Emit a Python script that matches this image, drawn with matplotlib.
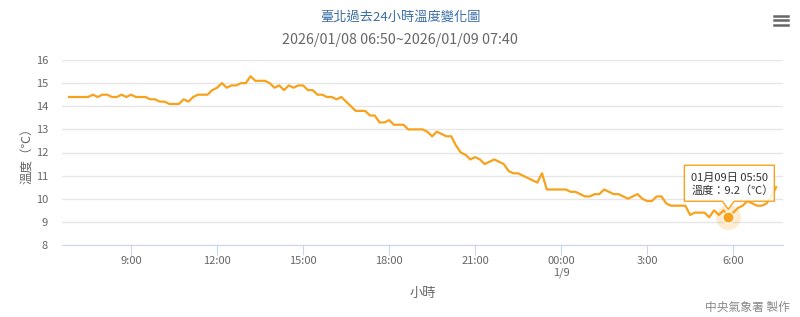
import numpy as np
import matplotlib
matplotlib.use("Agg")
import matplotlib.pyplot as plt
import matplotlib.transforms as mtrans
from matplotlib.patches import Polygon

plt.rcParams['font.family'] = ['Noto Sans CJK TC', 'DejaVu Sans']

# 10-minute readings starting 2026/01/08 06:50
START_HOUR = 6 + 50 / 60
temps = [14.4, 14.4, 14.4, 14.4, 14.4, 14.5, 14.4, 14.5, 14.5, 14.4,
         14.4, 14.5, 14.4, 14.5, 14.4, 14.4, 14.4, 14.3, 14.3, 14.2,
         14.2, 14.1, 14.1, 14.1, 14.3, 14.2, 14.4, 14.5, 14.5, 14.5,
         14.7, 14.8, 15.0, 14.8, 14.9, 14.9, 15.0, 15.0, 15.3, 15.1,
         15.1, 15.1, 15.0, 14.8, 14.9, 14.7, 14.9, 14.8, 14.9, 14.9,
         14.7, 14.7, 14.5, 14.5, 14.4, 14.4, 14.3, 14.4, 14.2, 14.0,
         13.8, 13.8, 13.8, 13.6, 13.6, 13.3, 13.3, 13.4, 13.2, 13.2,
         13.2, 13.0, 13.0, 13.0, 13.0, 12.9, 12.7, 12.9, 12.8, 12.7,
         12.7, 12.3, 12.0, 11.9, 11.7, 11.8, 11.7, 11.5, 11.6, 11.7,
         11.6, 11.5, 11.2, 11.1, 11.1, 11.0, 10.9, 10.8, 10.7, 11.1,
         10.4, 10.4, 10.4, 10.4, 10.4, 10.3, 10.3, 10.2, 10.1, 10.1,
         10.2, 10.2, 10.4, 10.3, 10.2, 10.2, 10.1, 10.0, 10.1, 10.2,
         10.0, 9.9, 9.9, 10.1, 10.1, 9.8, 9.7, 9.7, 9.7, 9.7,
         9.3, 9.4, 9.4, 9.4, 9.2, 9.5, 9.3, 9.5, 9.2, 9.4,
         9.6, 9.7, 9.9, 9.8, 9.7, 9.7, 9.8, 10.1, 10.5]

tick_hours = [9, 12, 15, 18, 21, 24, 27, 30]
tick_labels = ["9:00", "12:00", "15:00", "18:00", "21:00", "00:00\n1/9", "3:00", "6:00"]
y_ticks = [8, 9, 10, 11, 12, 13, 14, 15, 16]

hl_index = 138
hl_text1 = "01月09日 05:50"
hl_text2 = "溫度：9.2（℃）"

hours = START_HOUR + np.arange(len(temps)) / 6.0

LINE = '#f8a21c'
fig = plt.figure(figsize=(8, 3.17), dpi=100)
fig.patch.set_facecolor('white')
ax = fig.add_axes([62 / 800, 1 - 245 / 317, 721 / 800, 185 / 317])

ax.plot(hours, temps, color=LINE, lw=1.6, solid_joinstyle='round', zorder=3)
ax.set_xlim(6.59, 31.74)
ax.set_ylim(8, 16)
ax.set_yticks(y_ticks)
ax.set_xticks(tick_hours)
ax.set_xticklabels(tick_labels)
ax.grid(axis='y', color='#e6e6e6', lw=1)
ax.set_axisbelow(True)
for s in ['top', 'right', 'left']:
    ax.spines[s].set_visible(False)
ax.spines['bottom'].set_color('#ccd6eb')
ax.tick_params(axis='y', length=0, pad=10, labelsize=8, labelcolor='#666666')
ax.tick_params(axis='x', length=7, color='#ccd6eb', pad=1, labelsize=8, labelcolor='#666666')
ax.set_ylabel("溫度（℃）", fontsize=9, color='#666666', labelpad=1)
ax.set_xlabel("小時", fontsize=9.5, color='#666666', labelpad=6)

# highlighted point with tooltip
hx, hy = hours[hl_index], temps[hl_index]
pt = fig.dpi_scale_trans + mtrans.ScaledTranslation(hx, hy, ax.transData)
ax.plot([hx], [hy], 'o', ms=18, color=LINE, alpha=0.2, mec='none', zorder=4)
ax.plot([hx], [hy], 'o', ms=8, color=LINE, mec='white', mew=0.8, zorder=5)
px = np.array([(-44, 16), (-6, 16), (0, 8), (6, 16), (46, 16), (46, 52), (-44, 52)]) / 100
ax.add_patch(Polygon(px, closed=True, transform=pt, fc='white', alpha=0.85,
                     ec='none', zorder=6, clip_on=False))
ax.add_patch(Polygon(px, closed=True, transform=pt, fc='none', ec=LINE,
                     lw=1, zorder=7, clip_on=False))
ax.text(-37 / 100, 39 / 100, hl_text1, transform=pt, fontsize=8, color='#333333',
        va='center', ha='left', zorder=8)
ax.text(-37 / 100, 27 / 100, hl_text2, transform=pt, fontsize=8, color='#333333',
        va='center', ha='left', zorder=8)

fig.text(0.5, 1 - 17 / 317, "臺北過去24小時溫度變化圖", ha='center', va='center',
         fontsize=9.5, color='#3a6ea5')
fig.text(0.5, 1 - 40 / 317, "2026/01/08 06:50~2026/01/09 07:40", ha='center', va='center',
         fontsize=10.3, color='#666666')
fig.text(790 / 800, 1 - 307 / 317, "中央氣象署 製作", ha='right', va='center',
         fontsize=8.5, color='#888888')

# menu icon
for yy in (15.5, 20, 24.5):
    fig.add_artist(plt.Line2D([774 / 800, 788 / 800], [1 - yy / 317] * 2,
                              color='#666666', lw=1.8, transform=fig.transFigure))

fig.savefig("out.png", dpi=100, facecolor='white')
